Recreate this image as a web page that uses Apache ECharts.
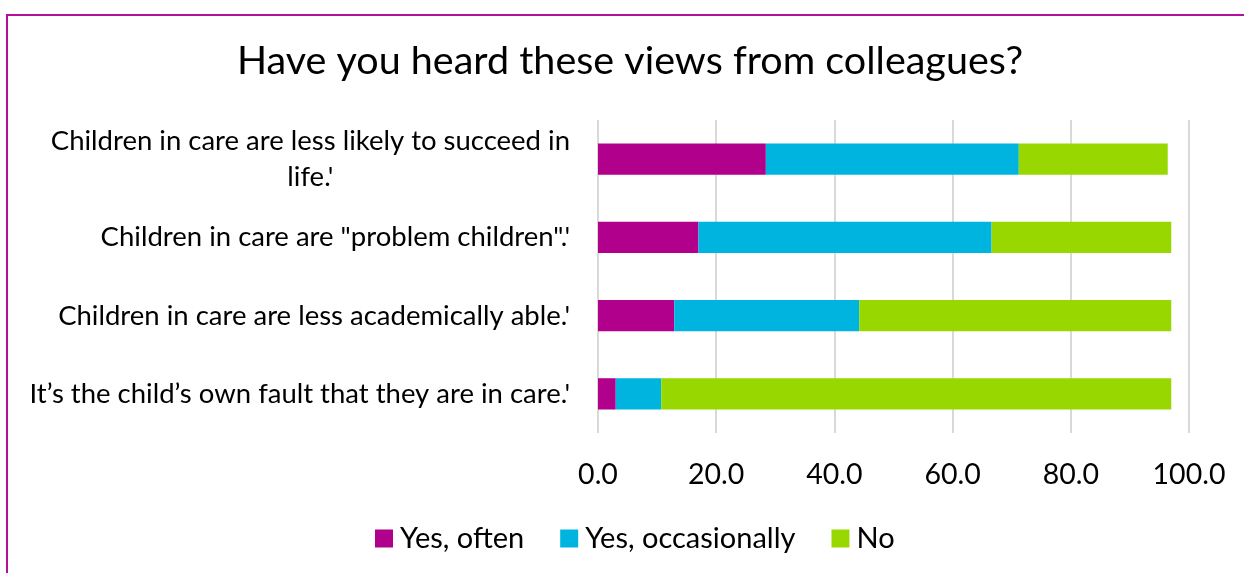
<!DOCTYPE html>
<html>
<head>
<meta charset="utf-8">
<script src="https://cdn.jsdelivr.net/npm/echarts@6/dist/echarts.min.js"></script>
<style>
  html, body { margin: 0; padding: 0; background: #fff; }
  #chart { width: 1244px; height: 573px; }
</style>
</head>
<body>
<div id="chart"></div>
<script>
// Survey statements (top to bottom)
const statements = [
  "Children in care are less likely to succeed in\nlife.'",
  "Children in care are \"problem children\".'",
  "Children in care are less academically able.'",
  "It\u2019s the child\u2019s own fault that they are in care.'"
];
const seriesNames = ['Yes, often', 'Yes, occasionally', 'No'];
// Percentage of respondents per answer
const yesOften = [28.4, 17.0, 12.9, 3.0];
const yesOccasionally = [42.8, 49.6, 31.3, 7.7];
const no = [25.2, 30.4, 52.8, 86.3];
const axisTicks = [0, 20, 40, 60, 80, 100];

const colors = ['#B0008C', '#00B4E0', '#98D800'];
const FONT = 'Lato';

const chart = echarts.init(document.getElementById('chart'));
const values = [yesOften, yesOccasionally, no];

chart.setOption({
  animation: false,
  textStyle: { fontFamily: FONT, color: '#000' },
  title: {
    text: 'Have you heard these views from colleagues?',
    left: 625, textAlign: 'center', top: 36,
    textStyle: { fontFamily: FONT, fontSize: 39.5, fontWeight: 'normal', color: '#000' }
  },
  graphic: [{
    type: 'rect', silent: true, z: -1,
    shape: { x: 7, y: 15, width: 1260, height: 600 },
    style: { fill: 'none', stroke: '#B5109C', lineWidth: 2 }
  }],
  legend: {
    data: seriesNames,
    left: 370, top: 519,
    itemWidth: 18, itemHeight: 18, itemGap: 36,
    icon: 'rect',
    textStyle: { fontFamily: FONT, fontSize: 29, color: '#000', padding: [0, 0, 0, 2] }
  },
  grid: { left: 598, right: 55, top: 120, bottom: 140, containLabel: false },
  xAxis: {
    type: 'value', min: axisTicks[0], max: axisTicks[axisTicks.length - 1],
    interval: axisTicks[1] - axisTicks[0],
    axisLine: { show: false }, axisTick: { show: false },
    splitLine: { lineStyle: { color: '#D9D9D9', width: 2 } },
    axisLabel: {
      margin: 27, fontFamily: FONT, fontSize: 28.5, color: '#000',
      formatter: v => v.toFixed(1)
    }
  },
  yAxis: {
    type: 'category', data: statements, inverse: true,
    axisLine: { show: false }, axisTick: { show: false },
    axisLabel: {
      margin: 28, fontFamily: FONT, fontSize: 27.5, color: '#000', lineHeight: 36,
      formatter: s => s.split('\n').map(l => '{c|' + l + '}').join('\n'),
      rich: { c: { align: 'center', fontFamily: FONT, fontSize: 27.5, lineHeight: 36, color: '#000' } }
    }
  },
  series: seriesNames.map((name, i) => ({
    name, type: 'bar', stack: 'total', barWidth: '40%',
    itemStyle: { color: colors[i] },
    data: values[i]
  }))
});
</script>
</body>
</html>
